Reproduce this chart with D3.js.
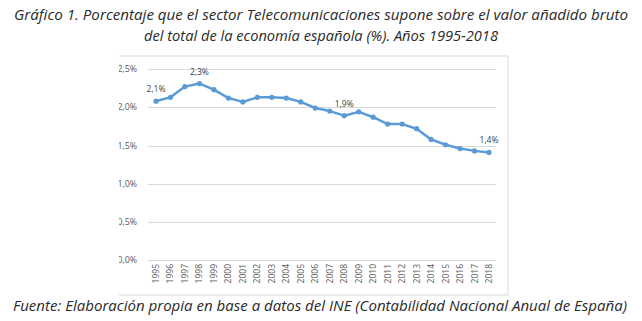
<!DOCTYPE html>
<html><head><meta charset="utf-8">
<script src="https://cdn.jsdelivr.net/npm/d3@7"></script>
<style>body{margin:0;background:#fff}svg{display:block}</style>
</head><body>
<svg id="c" width="642" height="321"></svg>
<script>
const years = ["1995","1996","1997","1998","1999","2000","2001","2002","2003","2004","2005","2006","2007","2008","2009","2010","2011","2012","2013","2014","2015","2016","2017","2018"];
const values = [2.08,2.13,2.27,2.31,2.23,2.12,2.07,2.13,2.13,2.12,2.07,1.99,1.95,1.89,1.94,1.87,1.78,1.78,1.72,1.58,1.51,1.46,1.43,1.41];
const yTicks = [0,0.5,1.0,1.5,2.0,2.5];
const labelled = {"1995":"2,1%","1998":"2,3%","2008":"1,9%","2018":"1,4%"};
const titleLines = ["Gráfico 1. Porcentaje que el sector Telecomunicaciones supone sobre el valor añadido bruto","del total de la economía española (%). Años 1995-2018"];
const footer = "Fuente: Elaboración propia en base a datos del INE (Contabilidad Nacional Anual de España)";

const svg = d3.select("#c");
const font = "'Open Sans', 'Noto Sans', sans-serif";

// titles
const tl = [{t:titleLines[0],x:321,y:20,w:614},{t:titleLines[1],x:321,y:41,w:354}];
tl.forEach(d=>svg.append("text").attr("x",d.x).attr("y",d.y).attr("text-anchor","middle")
  .attr("font-family",font).attr("font-style","italic").attr("font-size",14).attr("fill","#2a2a2a")
  .attr("textLength",d.w).attr("lengthAdjust","spacingAndGlyphs").text(d.t));

// frame
svg.append("defs").append("clipPath").attr("id","clip").append("rect").attr("x",119).attr("y",50).attr("width",400).attr("height",250);
const g = svg.append("g").attr("clip-path","url(#clip)");
g.append("rect").attr("x",100).attr("y",56).attr("width",408).attr("height",239)
  .attr("fill","none").attr("stroke","#d9d9d9").attr("stroke-width",1);

const x = d3.scalePoint().domain(years).range([156,489]);
const y = d3.scaleLinear().domain([0,2.5]).range([260.3,69]);

// grid
g.selectAll(".grid").data(yTicks).join("line")
  .attr("x1",148).attr("x2",496).attr("y1",d=>Math.round(y(d))+0.5).attr("y2",d=>Math.round(y(d))+0.5)
  .attr("stroke","#d9d9d9").attr("stroke-width",1);

// y axis labels
const fmt = d => d3.format(".1f")(d).replace(".",",")+"%";
g.selectAll(".yl").data(yTicks).join("text")
  .attr("x",137).attr("y",d=>y(d)+3).attr("text-anchor","end")
  .attr("font-family",font).attr("font-size",8.8).attr("fill","#595959").text(fmt);

// x axis labels
g.selectAll(".xl").data(years).join("text")
  .attr("transform",d=>`translate(${x(d)+3},264) rotate(-90)`).attr("text-anchor","end")
  .attr("font-family",font).attr("font-size",8.5).attr("fill","#595959").text(d=>d);

// line
const data = years.map((yr,i)=>({yr,v:values[i]}));
g.append("path").datum(data).attr("fill","none").attr("stroke","#5b9bd5").attr("stroke-width",2.5)
  .attr("stroke-linejoin","round")
  .attr("d",d3.line().x(d=>x(d.yr)).y(d=>y(d.v)));
g.selectAll(".pt").data(data).join("circle").attr("cx",d=>x(d.yr)).attr("cy",d=>y(d.v)).attr("r",2.6).attr("fill","#5b9bd5");

// data labels
g.selectAll(".dl").data(data.filter(d=>labelled[d.yr])).join("text")
  .attr("x",d=>x(d.yr)).attr("y",d=>y(d.v)-9).attr("text-anchor","middle")
  .attr("font-family",font).attr("font-size",8.5).attr("fill","#404040").text(d=>labelled[d.yr]);

// footer
svg.append("rect").attr("x",0).attr("y",297).attr("width",642).attr("height",24).attr("fill","#fff");
svg.append("text").attr("x",320).attr("y",311).attr("text-anchor","middle")
  .attr("font-family",font).attr("font-style","italic").attr("font-size",14).attr("fill","#2a2a2a")
  .attr("textLength",614).attr("lengthAdjust","spacingAndGlyphs").text(footer);
</script>
</body></html>
